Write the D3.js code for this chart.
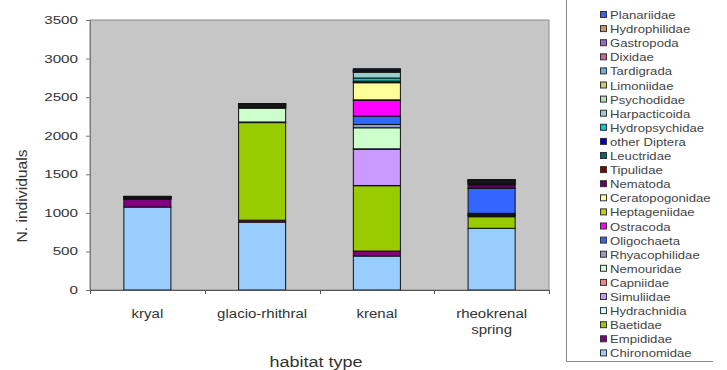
<!DOCTYPE html>
<html>
<head>
<meta charset="utf-8">
<script src="https://cdn.jsdelivr.net/npm/d3@7"></script>
<style>
  html, body { margin: 0; padding: 0; background: #ffffff; }
  svg { display: block; font-family: "Liberation Sans", Arial, sans-serif; }
</style>
</head>
<body>
<svg id="chart" width="727" height="370"></svg>
<script>
// Habitat types along the x axis
const habitats = ["kryal", "glacio-rhithral", "krenal", "rheokrenal spring"];

// Taxa, stacked from the bottom of each column upward
const taxa = [
  "Chironomidae", "Empididae", "Baetidae", "Hydrachnidia", "Simuliidae",
  "Capniidae", "Nemouridae", "Rhyacophilidae", "Oligochaeta", "Ostracoda",
  "Heptageniidae", "Ceratopogonidae", "Nematoda", "Tipulidae", "Leuctridae",
  "other Diptera", "Hydropsychidae", "Harpacticoida", "Psychodidae", "Limoniidae",
  "Tardigrada", "Dixidae", "Gastropoda", "Hydrophilidae", "Planariidae"
];

// Fill colour of each taxon (same order as taxa)
const taxonColors = [
  "#99ccff", "#800080", "#99cc00", "#ccffff", "#cc99ff",
  "#ff8080", "#ccffcc", "#9999cc", "#3366ff", "#ff00ff",
  "#cccc00", "#ffff99", "#660066", "#800000", "#006666",
  "#0000cc", "#00cccc", "#99cccc", "#b8e0b8", "#cccc66",
  "#66b2ee", "#cc6699", "#9966cc", "#cc9966", "#3366ff"
];

// Number of individuals per taxon: [kryal, glacio-rhithral, krenal, rheokrenal spring]
const Chironomidae    = [1075, 880, 440, 800];
const Empididae       = [100, 25, 65, 0];
const Baetidae        = [0, 1265, 847, 150];
const Hydrachnidia    = [5, 5, 3, 10];
const Simuliidae      = [0, 0, 470, 8];
const Capniidae       = [0, 3, 5, 6];
const Nemouridae      = [3, 180, 273, 12];
const Rhyacophilidae  = [0, 2, 43, 8];
const Oligochaeta     = [4, 8, 108, 324];
const Ostracoda       = [0, 0, 203, 0];
const Heptageniidae   = [0, 3, 8, 3];
const Ceratopogonidae = [0, 0, 222, 0];
const Nematoda        = [6, 5, 6, 43];
const Tipulidae       = [3, 5, 4, 10];
const Leuctridae      = [2, 6, 5, 8];
const otherDiptera    = [3, 5, 6, 10];
const Hydropsychidae  = [0, 0, 40, 4];
const Harpacticoida   = [0, 0, 75, 0];
const Psychodidae     = [2, 4, 6, 6];
const Limoniidae      = [3, 5, 5, 8];
const Tardigrada      = [2, 3, 6, 4];
const Dixidae         = [2, 4, 5, 6];
const Gastropoda      = [0, 3, 5, 4];
const Hydrophilidae   = [2, 2, 4, 3];
const Planariidae     = [3, 4, 15, 5];

const seriesValues = [
  Chironomidae, Empididae, Baetidae, Hydrachnidia, Simuliidae,
  Capniidae, Nemouridae, Rhyacophilidae, Oligochaeta, Ostracoda,
  Heptageniidae, Ceratopogonidae, Nematoda, Tipulidae, Leuctridae,
  otherDiptera, Hydropsychidae, Harpacticoida, Psychodidae, Limoniidae,
  Tardigrada, Dixidae, Gastropoda, Hydrophilidae, Planariidae
];

// y axis tick values
const yTicks = [0, 500, 1000, 1500, 2000, 2500, 3000, 3500];

// Rows for d3.stack: one per habitat
const rows = habitats.map((h, i) => {
  const r = { habitat: h };
  taxa.forEach((t, j) => { r[t] = seriesValues[j][i]; });
  return r;
});

const svg = d3.select("#chart");
const plot = { left: 90, right: 549, top: 20, bottom: 290 };
// horizontally widened lettering
const STRETCH = 1.3;

const x = d3.scaleBand().domain(habitats)
  .range([plot.left, plot.right]).paddingInner(0.59).paddingOuter(0.295);
const xOuter = d3.scaleBand().domain(habitats).range([plot.left, plot.right]);
const y = d3.scaleLinear().domain([0, 3500]).range([plot.bottom, plot.top]);

// Places a text at (px, py) widened horizontally around its anchor
function wideText(sel, px, py, sx) {
  return sel.attr("x", 0).attr("y", 0)
    .attr("transform", `translate(${px},${py}) scale(${sx},1)`);
}

// Plot area background
svg.append("rect")
  .attr("x", plot.left).attr("y", plot.top)
  .attr("width", plot.right - plot.left).attr("height", plot.bottom - plot.top)
  .attr("fill", "#c6c6c6").attr("stroke", "#8a8a8a").attr("stroke-width", 1);

// Stacked columns
const stacked = d3.stack().keys(taxa)(rows);
const color = d3.scaleOrdinal().domain(taxa).range(taxonColors);

svg.append("g").selectAll("g")
  .data(stacked)
  .join("g")
  .attr("fill", d => color(d.key))
  .selectAll("rect")
  .data(d => d.filter(s => s[1] - s[0] > 0))
  .join("rect")
  .attr("x", d => x(d.data.habitat))
  .attr("width", x.bandwidth())
  .attr("y", d => y(d[1]))
  .attr("height", d => y(d[0]) - y(d[1]))
  .attr("stroke", "#111")
  .attr("stroke-width", 1);

// Y axis
const yAxis = svg.append("g")
  .attr("transform", `translate(${plot.left},0)`)
  .call(d3.axisLeft(y).tickValues(yTicks).tickSize(4).tickPadding(7).tickFormat(d3.format("d")));
yAxis.select(".domain").attr("stroke", "#777");
yAxis.selectAll(".tick line").attr("stroke", "#777");
yAxis.selectAll(".tick text")
  .attr("font-size", 11).attr("fill", "#333")
  .attr("font-family", "'Liberation Sans', Arial, sans-serif")
  .attr("x", 0)
  .attr("transform", "translate(-12,0) scale(1.38,1)");

// X axis line with tick marks at category boundaries
svg.append("line")
  .attr("x1", plot.left).attr("x2", plot.right)
  .attr("y1", plot.bottom + 0.5).attr("y2", plot.bottom + 0.5)
  .attr("stroke", "#555");
const bounds = habitats.map(h => xOuter(h)).concat([plot.right]);
svg.append("g").selectAll("line")
  .data(bounds)
  .join("line")
  .attr("x1", d => Math.round(d) + 0.5).attr("x2", d => Math.round(d) + 0.5)
  .attr("y1", plot.bottom).attr("y2", plot.bottom + 4)
  .attr("stroke", "#555");

// Category labels (wrap long names onto two lines)
const catLabels = svg.append("g")
  .attr("font-size", 12).attr("fill", "#333").attr("text-anchor", "middle");
habitats.forEach(h => {
  const cx = xOuter(h) + xOuter.bandwidth() / 2;
  const words = h === "rheokrenal spring" ? ["rheokrenal", "spring"] : [h];
  words.forEach((w, i) => {
    wideText(catLabels.append("text").text(w), cx, 318 + i * 16, 1.25);
  });
});

// Axis titles
wideText(svg.append("text")
  .attr("text-anchor", "middle").attr("font-size", 15).attr("fill", "#333")
  .text("habitat type"), 316, 367, 1.2);
svg.append("text")
  .attr("transform", "translate(27,196) rotate(-90) scale(1.12,1)")
  .attr("text-anchor", "middle").attr("font-size", 14).attr("fill", "#333")
  .text("N. individuals");

// Legend frame (left and bottom edges)
svg.append("path")
  .attr("d", "M566.5,0 V361.5 H713")
  .attr("fill", "none").attr("stroke", "#888").attr("stroke-width", 1);

// Legend, topmost taxon first
const legendOrder = taxa.slice().reverse();
const legend = svg.append("g").attr("font-size", 10.5).attr("fill", "#444");
legendOrder.forEach((t, i) => {
  const cy = 15 + i * 14.1;
  legend.append("rect")
    .attr("x", 600.5).attr("y", cy - 3.5)
    .attr("width", 6).attr("height", 6)
    .attr("fill", color(t)).attr("stroke", "#333").attr("stroke-width", 1);
  wideText(legend.append("text").text(t), 610, cy + 4, 1.25);
});
</script>
</body>
</html>
